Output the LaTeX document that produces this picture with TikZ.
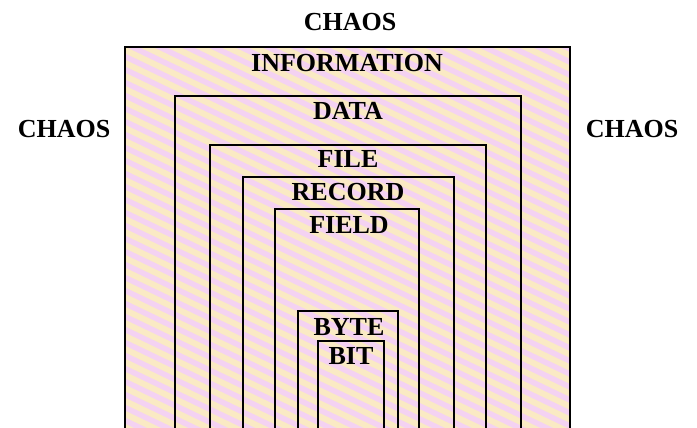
\documentclass[tikz,border=0pt]{standalone}
\usepackage{fontspec}
\setmainfont{Liberation Serif}
\definecolor{stripepink}{RGB}{244,210,242}
\definecolor{stripeyellow}{RGB}{250,234,196}
\tikzset{
  lbl/.style={font=\fontsize{26}{30}\selectfont\bfseries, inner sep=0pt, anchor=center},
  boxline/.style={line width=2pt, black},
}
\begin{document}
\begin{tikzpicture}[x=1pt,y=1pt]
\useasboundingbox (0,0) rectangle (697,428);
\fill[white] (0,0) rectangle (697,428);
% striped background inside outer box
\begin{scope}
  \clip (125,0) rectangle (570,381);
  \fill[stripepink] (125,0) rectangle (570,381);
  \foreach \k in {0,...,50} {
    \draw[stripeyellow, line width=6pt] (100,{\k*13}) -- (600,{\k*13-240});
  }
\end{scope}
% nested open-bottom boxes (pixel y -> 428 - y)
\draw[boxline] (125,0) |- (570,381) -- (570,0);
\draw[boxline] (175,0) |- (521,332) -- (521,0);
\draw[boxline] (210,0) |- (486,283) -- (486,0);
\draw[boxline] (243,0) |- (454,251) -- (454,0);
\draw[boxline] (275,0) |- (419,219) -- (419,0);
\draw[boxline] (298,0) |- (398,117) -- (398,0);
\draw[boxline] (318,0) |- (384,87) -- (384,0);
% labels
\node[lbl] (chaostop) at (350,406) {CHAOS};
\node[lbl] (chaosleft) at (64,299) {CHAOS};
\node[lbl] (chaosright) at (632,299) {CHAOS};
\node[lbl] (information) at (347,365) {INFORMATION};
\node[lbl] (data) at (348,317) {DATA};
\node[lbl] (file) at (348,269) {FILE};
\node[lbl] (record) at (348,236) {RECORD};
\node[lbl] (field) at (349,203) {FIELD};
\node[lbl] (byte) at (349,101) {BYTE};
\node[lbl] (bit) at (351,72) {BIT};
\end{tikzpicture}
\end{document}
